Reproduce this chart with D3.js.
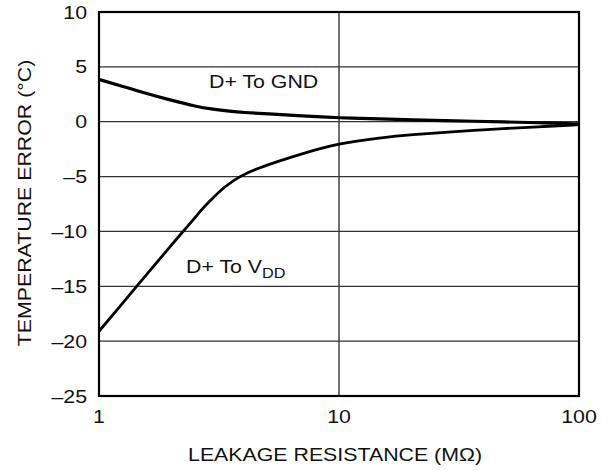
<!DOCTYPE html>
<html>
<head>
<meta charset="utf-8">
<script src="https://cdn.jsdelivr.net/npm/d3@7"></script>
<style>
  body { margin: 0; background: #fff; }
  text { font-family: "Liberation Sans", Arial, sans-serif; fill: #111; }
</style>
</head>
<body>
<div id="chart"></div>
<script>
// leakage resistance (MΩ) and temperature error (°C)
const resGnd = [1, 1.2, 1.5, 2, 2.5, 3, 3.5, 4, 5, 7, 10, 15, 20, 30, 50, 70, 100];
const toGnd = [3.85, 3.35, 2.7, 1.95, 1.42, 1.12, 0.95, 0.84, 0.72, 0.52, 0.35, 0.25, 0.17, 0.08, -0.02, -0.1, -0.2];

const resVdd = [1, 1.2, 1.5, 1.7, 2, 2.14, 2.5, 2.72, 3, 3.3, 3.87, 4.69, 5.68, 6.77, 10, 15, 20, 30, 50, 70, 100];
const toVdd = [-19.1, -17.05, -14.5, -13.1, -11.27, -10.5, -8.8, -7.82, -6.9, -6.0, -4.93, -4.17, -3.56, -3.01, -1.95, -1.45, -1.18, -0.9, -0.6, -0.45, -0.27];

const yTicks = [10, 5, 0, -5, -10, -15, -20, -25];
const xTicks = [1, 10, 100];

const width = 609, height = 470;
const stretch = 1.16;   // the original lettering is a wide sans

const x = d3.scaleLog().domain([1, 100]).range([99, 579]);
const y = d3.scaleLinear().domain([-25, 10]).range([396, 12]);

const svg = d3.select("#chart")
    .append("svg")
    .attr("width", width)
    .attr("height", height);

// helper for wide text: position a group, squash text inside it
function wideText(px, py, str, anchor, rot) {
    const g = svg.append("g")
        .attr("transform", `translate(${px},${py})` + (rot ? ` rotate(${rot})` : "") + ` scale(${stretch},1)`);
    return g.append("text")
        .attr("text-anchor", anchor || "start")
        .attr("font-size", 18.4)
        .text(str);
}

// horizontal grid
svg.selectAll("line.hgrid")
    .data(yTicks.slice(1, -1))
    .enter()
    .append("line")
    .attr("x1", x(1)).attr("x2", x(100))
    .attr("y1", d => y(d)).attr("y2", d => y(d))
    .attr("stroke", "#333")
    .attr("stroke-width", 1.2);

// vertical grid at 10
svg.append("line")
    .attr("x1", x(10)).attr("x2", x(10))
    .attr("y1", y(10)).attr("y2", y(-25))
    .attr("stroke", "#333")
    .attr("stroke-width", 1.4);

// labels on the curves (white box behind)
svg.append("rect")
    .attr("x", 205).attr("y", 71).attr("width", 122).attr("height", 22)
    .attr("fill", "#fff");
wideText(209, 88, "D+ To GND");

svg.append("rect")
    .attr("x", 181).attr("y", 255).attr("width", 122).attr("height", 26)
    .attr("fill", "#fff");
const vdd = wideText(186, 273, "D+ To V");
vdd.append("tspan").attr("font-size", 14).attr("dy", 5).text("DD");

// curves (b-spline smooths the read-off points)
const line = d3.line()
    .x(d => x(d[0]))
    .y(d => y(d[1]))
    .curve(d3.curveBasis);

svg.append("path")
    .datum(resGnd.map((r, i) => [r, toGnd[i]]))
    .attr("d", line)
    .attr("fill", "none")
    .attr("stroke", "#000")
    .attr("stroke-width", 3.2);

svg.append("path")
    .datum(resVdd.map((r, i) => [r, toVdd[i]]))
    .attr("d", line)
    .attr("fill", "none")
    .attr("stroke", "#000")
    .attr("stroke-width", 2.8);

// frame
svg.append("rect")
    .attr("x", x(1)).attr("y", y(10))
    .attr("width", x(100) - x(1)).attr("height", y(-25) - y(10))
    .attr("fill", "none")
    .attr("stroke", "#000")
    .attr("stroke-width", 2.2);

// tick labels
yTicks.forEach(t => {
    wideText(87, y(t) + 6.5, t < 0 ? "\u2013" + Math.abs(t) : String(t), "end");
});
xTicks.forEach(t => {
    wideText(x(t), 423, String(t), "middle");
});

// axis titles
wideText(335, 461, "LEAKAGE RESISTANCE (M\u03A9)", "middle");
wideText(31, 203, "TEMPERATURE ERROR (\u00B0C)", "middle", -90);
</script>
</body>
</html>
